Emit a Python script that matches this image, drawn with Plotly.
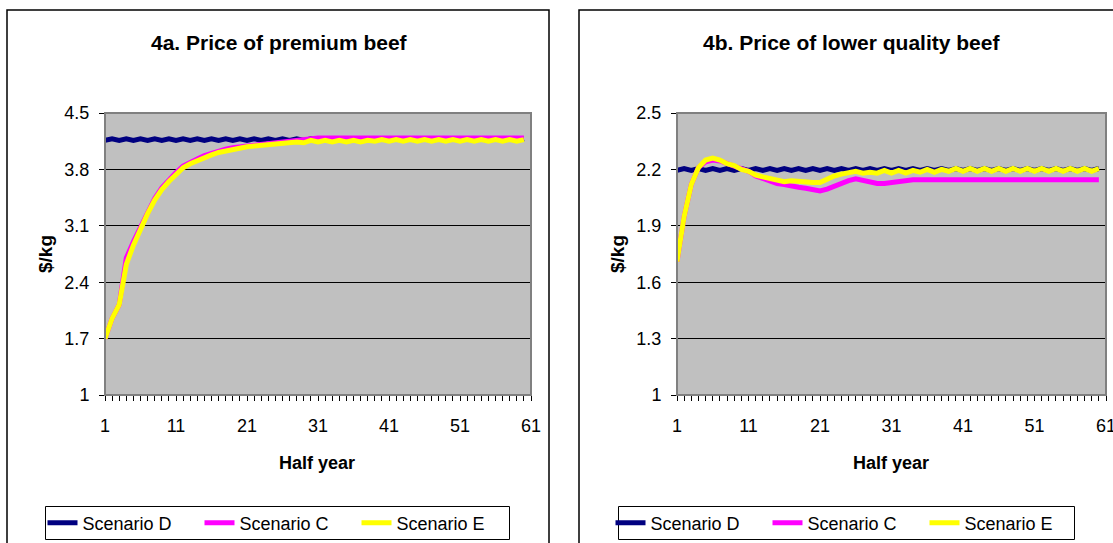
import plotly.graph_objects as go

W, H = 1113, 543
FONT = "Arial, Liberation Sans, sans-serif"

half_year = list(range(1, 61))

# 4a. Price of premium beef ($/kg)
prem_D = [4.16, 4.18] * 30
prem_C = [1.70, 1.95, 2.12, 2.70, 2.90, 3.08, 3.27, 3.44, 3.57, 3.67,
          3.76, 3.84, 3.89, 3.93, 3.97, 4.00, 4.03, 4.05, 4.07, 4.08,
          4.10, 4.11, 4.12, 4.13, 4.13, 4.14, 4.15, 4.16, 4.17, 4.18,
          4.19, 4.19, 4.19, 4.19, 4.19, 4.19, 4.19, 4.19, 4.19, 4.19,
          4.19, 4.19, 4.19, 4.19, 4.19, 4.19, 4.19, 4.19, 4.19, 4.19,
          4.19, 4.19, 4.19, 4.19, 4.19, 4.19, 4.19, 4.19, 4.19, 4.19]
prem_E = [1.70, 1.95, 2.12, 2.62, 2.86, 3.06, 3.25, 3.42, 3.55, 3.65,
          3.74, 3.82, 3.87, 3.91, 3.95, 3.98, 4.01, 4.03, 4.05, 4.06,
          4.08, 4.09, 4.10, 4.11, 4.11, 4.12, 4.13, 4.14, 4.13, 4.16,
          4.14, 4.16, 4.14, 4.16, 4.14, 4.16, 4.14, 4.16, 4.15, 4.17,
          4.15, 4.17, 4.15, 4.17, 4.15, 4.17, 4.15, 4.17, 4.15, 4.17,
          4.15, 4.17, 4.15, 4.17, 4.15, 4.17, 4.15, 4.17, 4.15, 4.17]

# 4b. Price of lower quality beef ($/kg)
low_D = [2.195, 2.205] * 30
low_C = [1.71, 1.95, 2.12, 2.21, 2.24, 2.25, 2.245, 2.23, 2.22, 2.20,
         2.19, 2.165, 2.15, 2.14, 2.125, 2.12, 2.11, 2.105, 2.10, 2.09,
         2.085, 2.095, 2.11, 2.13, 2.14, 2.15, 2.14, 2.13, 2.125, 2.125,
         2.13, 2.14, 2.145, 2.145, 2.145, 2.145, 2.145, 2.145, 2.145, 2.145,
         2.145, 2.145, 2.145, 2.145, 2.145, 2.145, 2.145, 2.145, 2.145, 2.145,
         2.145, 2.145, 2.145, 2.145, 2.145, 2.145, 2.145, 2.145, 2.145, 2.145]
low_E = [1.71, 1.95, 2.12, 2.21, 2.25, 2.26, 2.25, 2.23, 2.22, 2.20,
         2.19, 2.17, 2.16, 2.15, 2.14, 2.135, 2.14, 2.135, 2.13, 2.13,
         2.13, 2.15, 2.165, 2.175, 2.18, 2.19, 2.18, 2.185, 2.18, 2.195,
         2.18, 2.195, 2.18, 2.195, 2.185, 2.20, 2.185, 2.20, 2.19, 2.205,
         2.19, 2.205, 2.19, 2.205, 2.19, 2.205, 2.19, 2.205, 2.19, 2.205,
         2.19, 2.205, 2.19, 2.205, 2.19, 2.205, 2.19, 2.205, 2.19, 2.205]

names = ["Scenario D", "Scenario C", "Scenario E"]
colors = ["#000080", "#FF00FF", "#FFFF00"]

fig = go.Figure()
for xa, ya, lg, series in [("x", "y", "legend", [prem_D, prem_C, prem_E]),
                           ("x2", "y2", "legend2", [low_D, low_C, low_E])]:
    for nm, col, vals in zip(names, colors, series):
        fig.add_trace(go.Scatter(x=half_year, y=vals, mode="lines", name=nm,
                                 line=dict(color=col, width=5),
                                 xaxis=xa, yaxis=ya, legend=lg))

def px(x):
    return x / W

def py(y):
    return 1 - y / H

yd = [py(395), py(113)]
common_x = dict(range=[1, 61], tickvals=[1, 11, 21, 31, 41, 51, 61], automargin=False,
                showgrid=False, zeroline=False, showline=True, linecolor="black",
                linewidth=1, ticks="outside", ticklen=5, tickcolor="black",
                minor=dict(dtick=1, ticks="outside", ticklen=5, tickcolor="black", showgrid=False),
                tickfont=dict(family=FONT, size=18, color="black"), ticklabelstandoff=9,
                ticklabeloverflow="allow")
common_y = dict(showgrid=True, gridcolor="black", gridwidth=1, zeroline=False, automargin=False,
                showline=True, linecolor="black", linewidth=1, ticks="outside",
                ticklen=5, tickcolor="black",
                tickfont=dict(family=FONT, size=18, color="black"), ticklabelstandoff=6)

leg_common = dict(orientation="h", xanchor="center", y=py(523), yanchor="middle",
                  borderwidth=0, bgcolor="rgba(0,0,0,0)",
                  font=dict(family=FONT, size=18, color="black"), traceorder="normal",
                  tracegroupgap=0, itemwidth=30, entrywidth=112)

fig.update_layout(
    width=W, height=H, margin=dict(l=0, r=0, t=0, b=0, autoexpand=False),
    paper_bgcolor="white", plot_bgcolor="#C0C0C0",
    xaxis=dict(domain=[px(105), px(531)], anchor="y", **common_x),
    yaxis=dict(domain=yd, anchor="x", range=[1, 4.5],
               tickvals=[1, 1.7, 2.4, 3.1, 3.8, 4.5], ticktext=["1", "1.7", "2.4", "3.1", "3.8", "4.5"],
               **common_y),
    xaxis2=dict(domain=[px(677), px(1106)], anchor="y2", **common_x),
    yaxis2=dict(domain=yd, anchor="x2", range=[1, 2.5],
                tickvals=[1, 1.3, 1.6, 1.9, 2.2, 2.5], ticktext=["1", "1.3", "1.6", "1.9", "2.2", "2.5"],
                **common_y),
    legend=dict(x=px(278), **leg_common),
    legend2=dict(x=px(846), **leg_common),
    showlegend=True,
)

shapes = [
    dict(type="rect", xref="paper", yref="paper", x0=px(7), x1=px(549), y0=py(560), y1=py(10),
         line=dict(color="black", width=1.5), layer="below"),
    dict(type="rect", xref="paper", yref="paper", x0=px(579), x1=px(1125), y0=py(560), y1=py(10),
         line=dict(color="black", width=1.5), layer="below"),
    dict(type="rect", xref="paper", yref="paper", x0=px(105), x1=px(531), y0=py(395), y1=py(113),
         line=dict(color="#808080", width=2), layer="above"),
    dict(type="rect", xref="paper", yref="paper", x0=px(677), x1=px(1106), y0=py(395), y1=py(113),
         line=dict(color="#808080", width=2), layer="above"),
    # legend frames
    dict(type="rect", xref="paper", yref="paper", x0=px(45.5), x1=px(509.5), y0=py(539.5), y1=py(506.5),
         line=dict(color="black", width=1), fillcolor="white", layer="above"),
    dict(type="rect", xref="paper", yref="paper", x0=px(618.5), x1=px(1074.5), y0=py(539.5), y1=py(506.5),
         line=dict(color="black", width=1), fillcolor="white", layer="above"),
]
fig.update_layout(shapes=shapes)

annots = [
    dict(text="<b>4a. Price of premium beef</b>", x=px(279), y=py(42), font=dict(size=21)),
    dict(text="<b>4b. Price of lower quality beef</b>", x=px(851), y=py(42), font=dict(size=21)),
    dict(text="<b>$/kg</b>", x=px(45), y=py(254), textangle=-90, font=dict(size=19)),
    dict(text="<b>$/kg</b>", x=px(617), y=py(254), textangle=-90, font=dict(size=19)),
    dict(text="<b>Half year</b>", x=px(317), y=py(463), font=dict(size=18)),
    dict(text="<b>Half year</b>", x=px(891), y=py(463), font=dict(size=18)),
]
for a in annots:
    a.update(xref="paper", yref="paper", showarrow=False, xanchor="center", yanchor="middle")
    a["font"].update(family=FONT, color="black")
fig.update_layout(annotations=annots)

fig.write_html("out.html", config={"displayModeBar": False},
               post_script="document.body.style.margin='0';document.body.style.overflow='hidden';")
